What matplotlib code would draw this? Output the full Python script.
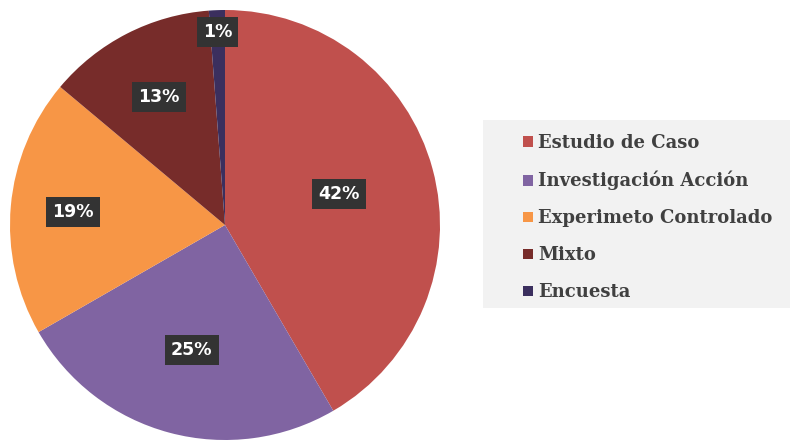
import numpy as np
import matplotlib
matplotlib.use("Agg")
import matplotlib.pyplot as plt
from matplotlib.patches import Rectangle

labels = ["Estudio de Caso", "Investigación Acción", "Experimeto Controlado", "Mixto", "Encuesta"]
values = [41.6, 25.1, 19.4, 12.7, 1.2]
colors = ["#C0504D", "#8064A2", "#F79646", "#772C2A", "#3B2F5E"]
# distance of each percentage label from the centre (fraction of radius)
label_r = [0.55, 0.60, 0.71, 0.67, 0.90]

fig = plt.figure(figsize=(7.94, 4.42), dpi=100)
ax = fig.add_axes([10 / 794, 2 / 442, 430 / 794, 430 / 442])

wedges, _ = ax.pie(values, colors=colors, startangle=90, counterclock=False,
                   wedgeprops=dict(linewidth=0))
ax.set_xlim(-1, 1)
ax.set_ylim(-1, 1)
ax.set_aspect("equal")

for w, v, r in zip(wedges, values, label_r):
    mid = np.deg2rad((w.theta1 + w.theta2) / 2)
    ax.text(r * np.cos(mid), r * np.sin(mid), "{:.0f}%".format(v),
            ha="center", va="center", color="white", fontsize=12.5,
            fontweight="bold", family="DejaVu Sans",
            bbox=dict(boxstyle="square,pad=0.35", facecolor="#333333", edgecolor="none"))

# legend background panel
fig.patches.append(Rectangle((483 / 794, 1 - 308 / 442), 307 / 794, 188 / 442,
                             transform=fig.transFigure, facecolor="#F2F2F2",
                             edgecolor="none", zorder=0))

leg = fig.legend(wedges, labels, loc="upper left",
                 bbox_to_anchor=(523 / 794, 1 - 134 / 442), bbox_transform=fig.transFigure,
                 frameon=False,
                 prop=dict(family="DejaVu Serif", weight="bold", size=13),
                 handlelength=0.55, handleheight=0.55, handletextpad=0.3,
                 labelspacing=1.05, borderpad=0, borderaxespad=0)
for t in leg.get_texts():
    t.set_color("#404040")
for h in leg.legend_handles:
    h.set_edgecolor("none")

fig.savefig("out.png", dpi=100, facecolor="white")
